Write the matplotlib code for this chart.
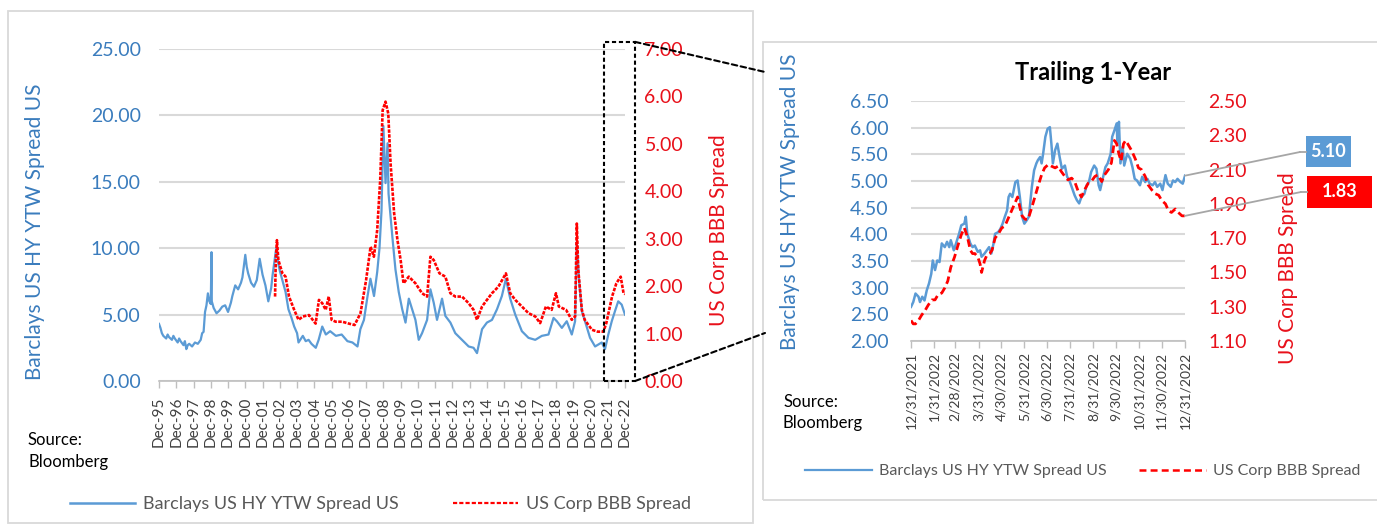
import matplotlib
matplotlib.use("Agg")
import matplotlib.pyplot as plt
from matplotlib.patches import Rectangle, ConnectionPatch
from matplotlib.lines import Line2D
from matplotlib.ticker import FormatStrFormatter
import pandas as pd

plt.rcParams['font.family'] = ['Lato', 'DejaVu Sans']
plt.rcParams['lines.scale_dashes'] = False

BLUE = '#5B9BD5'
BLUE_TXT = '#3A7CBD'
RED = '#FF0000'
RED_TXT = '#E8101A'
GRID = '#D9D9D9'
AXIS = '#BFBFBF'
GREY_TXT = '#595959'

# long history: x = months since Dec-95
hy_month = [0, 1, 2, 3, 5, 6, 7, 9, 10, 11, 13, 14, 15, 17, 18, 19, 20, 21, 23, 25,
            27, 29, 30, 31, 32, 33, 34, 35, 36, 36.5, 36.7, 38, 40, 42, 44, 46, 48, 50, 51, 53,
            55, 57, 58, 60, 61, 62, 64, 66, 68, 70, 72, 74, 76, 78, 79, 80, 81.5, 83, 84, 86,
            88, 90, 92, 94, 96, 97, 100, 102, 104, 106, 109, 111, 113.5, 116, 119, 123, 127, 131, 134.5, 138,
            140, 142.5, 145, 147, 149.5, 151.7, 153.3, 154.7, 156, 157.5, 158.9, 159.6, 162.3, 164.4, 166.7, 169.1,
            171.4, 173.7, 176, 178.3, 180.6, 182.9, 186.4, 188.7, 191, 193.3, 196.8, 199.1, 202.6, 206, 210.7,
            215.3, 218.7, 221.1, 224.6, 228, 231.5, 235, 238.4, 241.2, 244.2, 247.7, 252.3, 256.9, 261.6, 266.2,
            270.8, 274.3, 276.6, 280.1, 283.5, 287, 289.3, 290.5, 292.1, 294, 296.2, 299.7, 303.2, 307.8, 310.1,
            312.4, 314.8, 317, 319.3, 321.7, 324]
hy_spread = [4.3, 4.0, 3.6, 3.4, 3.2, 3.5, 3.3, 3.1, 3.4, 3.2, 2.9, 3.2, 3.0, 2.7, 3.0, 2.4, 2.7, 2.8, 2.6, 2.9,
             2.8, 3.1, 3.6, 3.7, 5.2, 5.7, 6.6, 6.0, 5.8, 9.7, 6.0, 5.5, 5.1, 5.3, 5.6, 5.7, 5.2, 5.9, 6.4, 7.2,
             6.9, 7.4, 7.8, 9.5, 8.6, 8.1, 7.4, 7.1, 7.6, 9.2, 8.0, 7.2, 6.0, 7.0, 8.0, 8.8, 10.0, 8.8, 8.3, 7.5,
             6.7, 5.4, 4.8, 4.1, 3.6, 2.9, 3.4, 3.0, 3.1, 2.8, 2.5, 3.1, 4.1, 3.5, 3.75, 3.4, 3.5, 3.0, 2.9, 2.6,
             3.9, 4.6, 6.4, 7.7, 6.4, 8.2, 10.0, 12.8, 19.2, 14.9, 17.9, 14.1, 10.8, 8.4, 6.7, 5.4,
             4.4, 6.2, 5.4, 4.6, 3.1, 3.6, 4.6, 6.9, 5.9, 4.6, 6.2, 4.9, 4.4, 3.6, 3.1,
             2.6, 2.5, 2.1, 3.9, 4.4, 4.6, 5.4, 6.4, 7.7, 6.2, 5.0, 3.75, 3.25, 3.1, 3.4,
             3.5, 4.75, 4.5, 4.0, 4.5, 3.5, 4.5, 10.5, 7.5, 5.25, 4.5, 3.25, 2.6, 2.9, 2.4,
             3.5, 4.5, 5.25, 6.0, 5.75, 5.0]

bbb_month = [80.7, 81.2, 82, 83, 85.8, 88, 90.4, 94, 97, 100, 104.3, 108.9, 111.2, 113.5, 115.9, 118, 120,
             122.8, 127.4, 132, 136, 140.1, 144, 147.1, 149.4, 151.7, 153.8, 155.5, 157.5, 159.4, 161, 163.5,
             165.8, 168, 170, 173.7, 178.3, 182.9, 186.4, 188.7, 191, 195, 199.1, 202.6, 206, 210.7, 215.3,
             218.7, 221.1, 224.6, 228, 231.5, 236, 241.2, 244.2, 247.7, 252.3, 256.9, 261.6, 265, 269, 273,
             276, 278, 283, 287, 289.3, 290.5, 291.5, 294, 296, 301, 305, 309, 311, 315, 318, 321, 323, 324]
bbb_spread = [1.78, 2.55, 2.97, 2.55, 2.27, 2.2, 1.78, 1.5, 1.29, 1.36, 1.39, 1.21, 1.71, 1.64, 1.5, 1.78, 1.29,
              1.25, 1.25, 1.21, 1.18, 1.43, 2.13, 2.83, 2.62, 3.18, 4.24, 5.71, 5.89, 5.64, 4.59, 3.53,
              2.97, 2.55, 2.06, 2.2, 2.06, 1.85, 1.78, 2.62, 2.55, 2.27, 2.2, 1.85, 1.78, 1.78, 1.64,
              1.5, 1.29, 1.57, 1.71, 1.85, 1.99, 2.27, 1.85, 1.71, 1.57, 1.43, 1.36, 1.22, 1.57, 1.5,
              1.85, 1.57, 1.5, 1.29, 1.36, 3.32, 2.34, 1.5, 1.29, 1.08, 1.04, 1.04, 1.22, 1.78, 2.06, 2.2, 1.85, 1.83]

long_labels = ['Dec-95', 'Dec-96', 'Dec-97', 'Dec-98', 'Dec-99', 'Dec-00', 'Dec-01', 'Dec-02', 'Dec-03',
               'Dec-04', 'Dec-05', 'Dec-06', 'Dec-07', 'Dec-08', 'Dec-09', 'Dec-10', 'Dec-11', 'Dec-12',
               'Dec-13', 'Dec-14', 'Dec-15', 'Dec-16', 'Dec-17', 'Dec-18', 'Dec-19', 'Dec-20', 'Dec-21', 'Dec-22']

# trailing year: x = days since 12/31/2021
ty_hy_day = [0, 3, 6, 10, 12, 15, 18, 21, 24, 27, 29, 32, 35, 38, 41, 45, 48, 51, 53, 57,
             60, 64, 67, 71, 73, 75, 79, 82, 85, 89, 92, 94, 98, 101, 104, 107, 110, 112, 116, 119,
             122, 125, 128, 130, 132, 135, 139, 142, 145, 148, 151, 154, 157, 161, 164, 167, 169, 172, 174, 176,
             179, 182, 185, 187, 189, 192, 195, 198, 201, 205, 208, 211, 214, 218, 221, 224, 227, 231, 234, 237,
             240, 244, 247, 250, 252, 256, 259, 262, 266, 268, 271, 274, 275, 277, 279, 282, 284, 288, 292, 295,
             298, 301, 305, 308, 312, 315, 318, 322, 325, 328, 332, 335, 339, 342, 346, 349, 352, 355, 359, 362,
             365]
ty_hy = [2.64, 2.73, 2.89, 2.83, 2.73, 2.83, 2.76, 2.95, 3.08, 3.26, 3.51, 3.33, 3.51, 3.48, 3.83, 3.76, 3.86, 3.76, 3.89, 3.70,
         3.83, 4.01, 4.17, 4.20, 4.33, 4.01, 3.83, 3.76, 3.79, 3.67, 3.70, 3.58, 3.64, 3.70, 3.76, 3.64, 3.83, 4.01, 4.04, 4.10,
         4.20, 4.33, 4.45, 4.70, 4.76, 4.70, 4.98, 5.01, 4.70, 4.33, 4.20, 4.26, 4.33, 4.89, 5.20, 5.33, 5.39, 5.45, 5.33, 5.51,
         5.83, 5.98, 6.01, 5.70, 5.33, 5.58, 5.70, 5.45, 5.23, 5.29, 5.08, 5.01, 4.89, 4.73, 4.64, 4.58, 4.70, 4.76, 4.92, 4.98,
         5.17, 5.29, 5.23, 4.92, 4.83, 5.08, 5.26, 5.33, 5.51, 5.83, 5.95, 6.08, 5.70, 6.11, 5.33, 5.64, 5.29, 5.51, 5.42, 5.26,
         5.04, 5.01, 4.92, 5.08, 4.98, 5.04, 4.95, 4.92, 4.98, 4.89, 4.95, 4.83, 5.11, 4.95, 4.89, 5.01, 4.98, 5.04, 4.98, 4.95,
         5.10]
ty_bbb_day = [0, 3, 6, 10, 14, 19, 23, 28, 32, 36, 41, 45, 49, 53, 58, 62, 67, 71, 75, 79,
              82, 85, 89, 92, 94, 98, 101, 105, 108, 112, 117, 121, 125, 130, 134, 139, 142, 145, 148, 152,
              156, 161, 165, 169, 174, 178, 183, 187, 192, 196, 200, 205, 209, 214, 218, 223, 227, 231, 236, 240,
              245, 249, 254, 258, 263, 267, 271, 274, 277, 280, 283, 286, 290, 294, 299, 303, 307, 312, 316, 321,
              325, 330, 334, 339, 343, 347, 352, 356, 361, 365]
ty_bbb = [1.22, 1.20, 1.20, 1.22, 1.25, 1.28, 1.31, 1.34, 1.34, 1.37, 1.38, 1.41, 1.45, 1.53, 1.59, 1.65, 1.72, 1.76, 1.71, 1.63,
          1.61, 1.61, 1.59, 1.55, 1.50, 1.57, 1.60, 1.61, 1.63, 1.70, 1.73, 1.76, 1.77, 1.82, 1.86, 1.91, 1.94, 1.88, 1.83, 1.81,
          1.81, 1.88, 1.94, 2.00, 2.07, 2.11, 2.13, 2.12, 2.11, 2.12, 2.09, 2.06, 2.04, 2.05, 2.03, 1.97, 1.94, 1.98, 2.02, 2.03,
          2.06, 2.07, 2.03, 2.07, 2.10, 2.14, 2.27, 2.25, 2.19, 2.15, 2.25, 2.27, 2.24, 2.21, 2.16, 2.11, 2.10, 2.06, 2.01, 1.98,
          1.96, 1.95, 1.92, 1.90, 1.86, 1.85, 1.87, 1.85, 1.83, 1.83]

month_ends = ['12/31/2021', '1/31/2022', '2/28/2022', '3/31/2022', '4/30/2022', '5/31/2022', '6/30/2022',
              '7/31/2022', '8/31/2022', '9/30/2022', '10/31/2022', '11/30/2022', '12/31/2022']

hy_last = 5.10
bbb_last = 1.83

W, H = 1377, 524


def fx(x):
    return x / W


def fy(y):
    return 1 - y / H


def style_axis(ax):
    for side in ['top', 'left', 'right']:
        ax.spines[side].set_visible(False)
    ax.spines['bottom'].set_color(AXIS)
    ax.spines['bottom'].set_linewidth(1.2)


fig = plt.figure(figsize=(W / 100, H / 100), dpi=100)
fig.patch.set_facecolor('white')

# panel frames
fig.add_artist(Rectangle((fx(8), fy(523)), fx(753) - fx(8), fy(11) - fy(523), fill=False,
                         ec=GRID, lw=1.3, transform=fig.transFigure))
fig.add_artist(Rectangle((fx(763), fy(500)), fx(1400) - fx(763), fy(42) - fy(500), fill=False,
                         ec=GRID, lw=1.3, transform=fig.transFigure))

# ---------- long history ----------
ax = fig.add_axes([fx(159), fy(381), fx(625) - fx(159), fy(49) - fy(381)])
style_axis(ax)
ax.plot(hy_month, hy_spread, color=BLUE, lw=1.6, zorder=3)
ax.set_ylim(0, 25)
ax.set_yticks([0, 5, 10, 15, 20, 25])
ax.yaxis.set_major_formatter(FormatStrFormatter('%.2f'))
ax.set_xlim(0, 324)
ax.set_xticks(range(0, 325, 12))
ax.set_xticklabels(long_labels, rotation=90, fontsize=11, color='#404040')
ax.grid(axis='y', color=GRID, lw=1.5)
ax.set_axisbelow(True)
ax.tick_params(axis='y', length=0, pad=13, labelsize=14, labelcolor=BLUE_TXT)
ax.tick_params(axis='x', length=5, color=AXIS, width=1, pad=6)

ax2 = ax.twinx()
style_axis(ax2)
ax2.spines['bottom'].set_visible(False)
ax2.plot(bbb_month, bbb_spread, color=RED, lw=1.9, ls=(0, (2.5, 1)), zorder=4)
ax2.set_ylim(0, 7)
ax2.set_yticks(range(0, 8))
ax2.yaxis.set_major_formatter(FormatStrFormatter('%.2f'))
ax2.tick_params(axis='y', length=0, pad=14, labelsize=14, labelcolor=RED_TXT)

# window marking the trailing year
ax2.add_patch(Rectangle((309.5, 0), 21.5, 7.15, fill=False, ec='black', lw=1.5,
                        ls=(0, (3, 2)), clip_on=False, zorder=5))
for ya, yb in [(7.15, 72), (0, 333)]:
    fig.add_artist(ConnectionPatch(xyA=(331, ya), coordsA=ax2.transData,
                                   xyB=(fx(765), fy(yb)), coordsB=fig.transFigure,
                                   color='black', lw=1.5, ls=(0, (4, 2.5))))

fig.text(fx(35), fy(232), 'Barclays US HY YTW Spread US', rotation=90, ha='center', va='center',
         fontsize=15, color=BLUE_TXT)
fig.text(fx(719), fy(230), 'US Corp BBB Spread', rotation=90, ha='center', va='center',
         fontsize=15, color=RED_TXT)
fig.text(fx(28), fy(440), 'Source:', fontsize=12, va='center', color='black')
fig.text(fx(28), fy(462), 'Bloomberg', fontsize=12, va='center', color='black')

fig.legend(handles=[Line2D([], [], color=BLUE, lw=1.8),
                    Line2D([], [], color=RED, lw=1.6, ls=(0, (3, 1.5)))],
           labels=['Barclays US HY YTW Spread US', 'US Corp BBB Spread'],
           loc='center left', bbox_to_anchor=(fx(70), fy(504)), ncol=2, frameon=False,
           fontsize=13, handlelength=3.6, handletextpad=0.45, columnspacing=3.0,
           borderpad=0, borderaxespad=0, labelcolor=GREY_TXT)

# ---------- trailing 1-year ----------
start = pd.Timestamp('2021-12-31')
tick_days = [(d - start).days for d in pd.to_datetime(month_ends, format='%m/%d/%Y')]

axr = fig.add_axes([fx(911), fy(341), fx(1185) - fx(911), fy(101) - fy(341)])
style_axis(axr)
axr.plot(ty_hy_day, ty_hy, color=BLUE, lw=1.8, zorder=3)
axr.set_ylim(2.0, 6.5)
axr.set_yticks([2.0, 2.5, 3.0, 3.5, 4.0, 4.5, 5.0, 5.5, 6.0, 6.5])
axr.yaxis.set_major_formatter(FormatStrFormatter('%.2f'))
axr.set_xlim(0, 365)
axr.set_xticks(tick_days)
axr.set_xticklabels(month_ends, rotation=90, fontsize=10, color='#404040')
axr.grid(axis='y', color=GRID, lw=1.5)
axr.set_axisbelow(True)
axr.tick_params(axis='y', length=0, pad=16, labelsize=14, labelcolor=BLUE_TXT)
axr.tick_params(axis='x', length=5, color=AXIS, width=1, pad=3)

axr2 = axr.twinx()
style_axis(axr2)
axr2.spines['bottom'].set_visible(False)
axr2.plot(ty_bbb_day, ty_bbb, color=RED, lw=2.0, ls=(0, (5.5, 3)), zorder=4)
axr2.set_ylim(1.10, 2.50)
axr2.set_yticks([1.10, 1.30, 1.50, 1.70, 1.90, 2.10, 2.30, 2.50])
axr2.yaxis.set_major_formatter(FormatStrFormatter('%.2f'))
axr2.tick_params(axis='y', length=0, pad=17, labelsize=14, labelcolor=RED_TXT)

fig.text(fx(1093), fy(73), 'Trailing 1-Year', fontsize=17, fontweight='bold', ha='center', va='center')
fig.text(fx(790), fy(202), 'Barclays US HY YTW Spread US', rotation=90, ha='center', va='center',
         fontsize=15, color=BLUE_TXT)
fig.text(fx(1288), fy(268), 'US Corp BBB Spread', rotation=90, ha='center', va='center',
         fontsize=15, color=RED_TXT)
fig.text(fx(783), fy(402), 'Source:', fontsize=12, va='center', color='black')
fig.text(fx(783), fy(423), 'Bloomberg', fontsize=12, va='center', color='black')

# value call-outs for the last observation
callouts = [(axr, ty_hy_day[-1], hy_last, (1300, 152), (1306, 136, 1351, 167), BLUE),
            (axr2, ty_bbb_day[-1], bbb_last, (1301, 192), (1307, 176, 1372, 208), RED)]
for a, xd, val, corner, box, col in callouts:
    fig.add_artist(ConnectionPatch(xyA=(xd, val), coordsA=a.transData,
                                   xyB=(fx(corner[0]), fy(corner[1])), coordsB=fig.transFigure,
                                   color='#A6A6A6', lw=1.3))
    fig.add_artist(Line2D([fx(corner[0]), fx(box[0])], [fy(corner[1]), fy(corner[1])],
                          color='#A6A6A6', lw=1.3, transform=fig.transFigure))
    x0, y0, x1, y1 = box
    fig.add_artist(Rectangle((fx(x0), fy(y1)), fx(x1) - fx(x0), fy(y0) - fy(y1),
                             fc=col, ec='none', transform=fig.transFigure))
    fig.text(fx((x0 + x1) / 2), fy((y0 + y1) / 2), f'{val:.2f}', color='white', fontsize=13,
             fontweight='bold', ha='center', va='center')

fig.legend(handles=[Line2D([], [], color=BLUE, lw=1.6),
                    Line2D([], [], color=RED, lw=1.8, ls=(0, (5, 3)))],
           labels=['Barclays US HY YTW Spread US', 'US Corp BBB Spread'],
           loc='center left', bbox_to_anchor=(fx(805), fy(471)), ncol=2, frameon=False,
           fontsize=11.5, handlelength=4.2, handletextpad=0.45, columnspacing=2.0,
           borderpad=0, borderaxespad=0, labelcolor=GREY_TXT)

fig.savefig('out.png', dpi=100)
